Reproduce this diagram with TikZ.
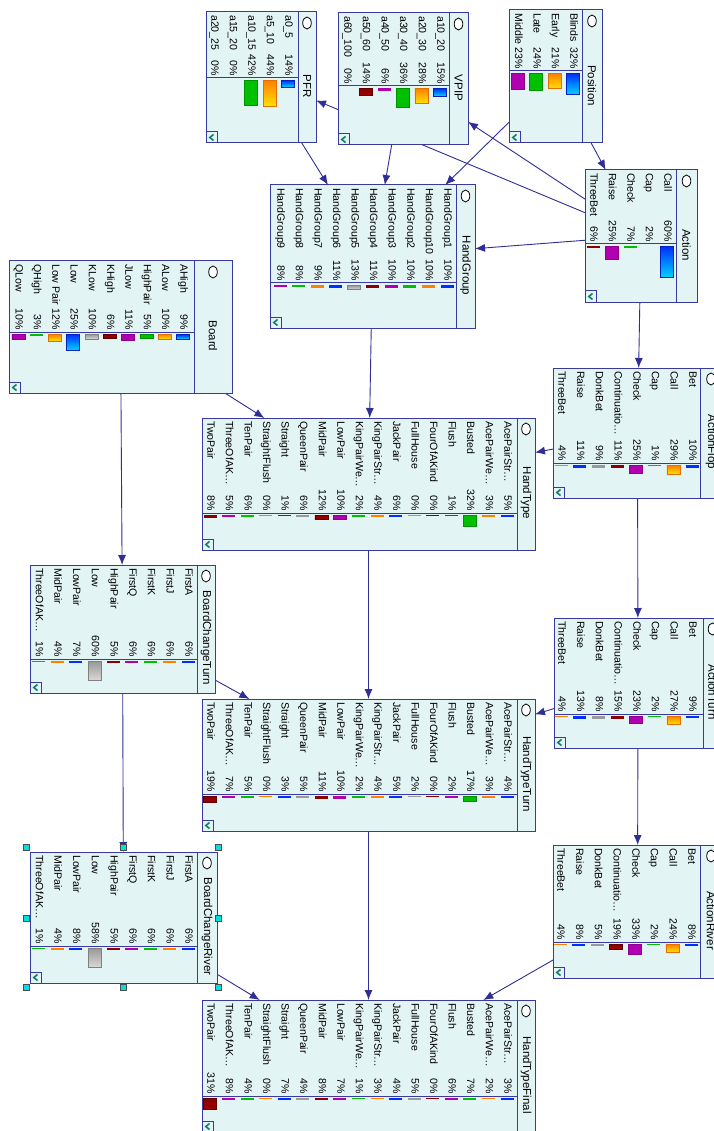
\documentclass[tikz,border=0pt]{standalone}
\usepackage{fontspec}
\setmainfont{Liberation Sans}
\usetikzlibrary{arrows.meta}
\pgfdeclarelayer{bg}
\pgfsetlayers{bg,main}

\definecolor{boxfill}{HTML}{E3F4F4}
\definecolor{boxline}{HTML}{3A3A9E}
\definecolor{linkc}{HTML}{2E2E96}
\definecolor{chevc}{HTML}{11806A}
\definecolor{handc}{HTML}{00E0E0}
% bar colours: top / bottom / border
\definecolor{bt0}{HTML}{0030FF}\definecolor{bb0}{HTML}{00D0FF}\definecolor{bd0}{HTML}{0020C0}
\definecolor{bt1}{HTML}{FF8000}\definecolor{bb1}{HTML}{FFE000}\definecolor{bd1}{HTML}{E07000}
\definecolor{bt2}{HTML}{00C000}\definecolor{bb2}{HTML}{00C000}\definecolor{bd2}{HTML}{009000}
\definecolor{bt3}{HTML}{B000B0}\definecolor{bb3}{HTML}{B000B0}\definecolor{bd3}{HTML}{900090}
\definecolor{bt4}{HTML}{8A0000}\definecolor{bb4}{HTML}{A00000}\definecolor{bd4}{HTML}{600000}
\definecolor{bt5}{HTML}{999999}\definecolor{bb5}{HTML}{D8D8D8}\definecolor{bd5}{HTML}{808080}

\newcommand\rowsp{18.55}
\newcommand\rowoff{9.5}

\tikzset{
  bnbox/.style={rectangle, draw=boxline, fill=boxfill, line width=1pt, inner sep=0pt, outer sep=0pt},
  bnline/.style={draw=boxline, line width=1pt},
  link/.style={draw=linkc, line width=0.9pt, -{Latex[length=10pt,width=8pt]}},
  stlbl/.style={rotate=-90, inner sep=0pt, font=\fontsize{10.6}{12}\selectfont},
  ttl/.style={rotate=-90, inner sep=0pt, font=\fontsize{11.5}{13}\selectfont},
  handle/.style={fill=handc, draw=black!70, line width=0.6pt},
}

% #1 name, #2 x0, #3 y0, #4 x1, #5 y1, #6 title divider x, #7 state divider y, #8 title, #9 states
\newcommand\bnnode[9]{%
  \pgfmathsetmacro\bnw{#4-#2}%
  \pgfmathsetmacro\bnh{#5-#3}%
  \node[bnbox, minimum width=\bnw pt, minimum height=\bnh pt, anchor=north west] (#1) at (#2,#3) {};
  \draw[bnline] (#6,#3) -- (#6,#5);
  \draw[bnline] (#2,#7) -- (#6,#7);
  \pgfmathsetmacro\tcx{(#6+#4)/2}%
  \pgfmathsetmacro\tcy{(#3+#5)/2+9}%
  \draw[black, line width=0.8pt, fill=white] (\tcx,#3+11) ellipse (4.3 and 6);
  \node[ttl] at (\tcx,\tcy) {#8};
  \draw[bnline, fill=boxfill] (#2,#5-11) rectangle (#2+11,#5);
  \draw[chevc, line width=1.6pt] (#2+7.5,#5-8.5) -- (#2+3.8,#5-5.5) -- (#2+7.5,#5-2.5);
  \foreach \lab/\pct/\len [count=\i from 0] in {#9}{%
    \pgfmathsetmacro\cx{#6-\rowoff-\i*\rowsp}%
    \node[stlbl, anchor=mid west] at (\cx,#3+3) {\lab};
    \node[stlbl, anchor=mid east] at (\cx,#7-2) {\pct\%};
    \pgfmathtruncatemacro\ci{mod(\i,6)}%
    \ifdim\len pt>3.9pt
      \path[top color=bt\ci, bottom color=bb\ci, draw=bd\ci, line width=0.6pt] (\cx-6.5,#7+2.5) rectangle (\cx+6.5,#7+2+\len);
    \else\ifdim\len pt>0pt
      \fill[bt\ci] (\cx-6.5,#7+2) rectangle (\cx+6.5,#7+2+\len);
    \fi\fi
  }%
}

\begin{document}
\begin{tikzpicture}[x=1pt, y=-1pt]
\useasboundingbox (0,0) rectangle (713,1131);

\renewcommand\rowoff{10}\renewcommand\rowsp{18.5}
\bnnode{PFR}{206}{12}{316}{143}{298}{78}{PFR}{a0\_5/14/7, a5\_10/44/26, a10\_15/42/25, a15\_20/0/0, a20\_25/0/0}

\renewcommand\rowoff{9}\renewcommand\rowsp{18.6}
\bnnode{VPIP}{338}{13}{468}{145}{449}{86}{VPIP}{a10\_20/15/8, a20\_30/28/15, a30\_40/36/19, a40\_50/6/3, a50\_60/14/7, a60\_100/0/0}

\renewcommand\rowoff{9}\renewcommand\rowsp{18.4}
\bnnode{Position}{509}{10}{602}{143}{582}{71}{Position}{Blinds/32/21, Early/21/15, Late/24/17, Middle/23/16}

\renewcommand\rowoff{9}\renewcommand\rowsp{18.55}
\bnnode{HandGroup}{270}{185}{475}{328}{456}{283}{HandGroup}{HandGroup1/10/3, HandGroup10/10/3, HandGroup2/10/3, HandGroup3/10/3, HandGroup4/11/3, HandGroup5/13/4.5, HandGroup6/11/3, HandGroup7/9/3, HandGroup8/8/2.5, HandGroup9/8/2.5}

\renewcommand\rowoff{9}\renewcommand\rowsp{18.5}
\bnnode{Action}{585}{170}{697}{302}{676}{244}{Action}{Call/60/31, Cap/2/0, Check/7/2, Raise/25/13, ThreeBet/6/2.5}

\renewcommand\rowoff{11}\renewcommand\rowsp{18.3}
\bnnode{Board}{9}{261}{232}{393}{194}{332}{Board}{AHigh/9/5, ALow/10/5, HighPair/5/4, JLow/11/6, KHigh/6/4, KLow/10/5, Low/25/16, Low Pair/12/7, QHigh/3/2, QLow/10/5}

\renewcommand\rowoff{10}\renewcommand\rowsp{18.56}
\bnnode{HandType}{202}{418}{535}{550}{517}{513}{HandType}{AcePairStr\ldots/5/2, AcePairWe\ldots/3/1.5, Busted/32/11, Flush/1/1, FourOfAKind/0/1, FullHouse/0/1, JackPair/6/2, KingPairStr\ldots/4/2, KingPairWe\ldots/2/1.5, LowPair/10/4, MidPair/12/4, QueenPair/6/2, Straight/1/1, StraightFlush/0/1, TenPair/6/2, ThreeOfAK\ldots/5/2, TwoPair/8/3}

\renewcommand\rowoff{8}\renewcommand\rowsp{18.7}
\bnnode{ActionFlop}{553}{368}{722}{498}{700}{463}{ActionFlop}{Bet/10/3, Call/29/9, Cap/1/1, Check/25/8, Continuatio\ldots/11/3, DonkBet/9/3, Raise/11/3, ThreeBet/4/1}

\renewcommand\rowoff{9}\renewcommand\rowsp{18.7}
\bnnode{BoardChangeTurn}{30}{565}{215}{693}{197}{659}{BoardChangeTurn}{FirstA/6/2, FirstJ/6/2, FirstK/6/2, FirstQ/6/2, HighPair/5/2, Low/60/19, LowPair/7/2, MidPair/4/2, ThreeOfAK\ldots/1/1}

\renewcommand\rowoff{10}\renewcommand\rowsp{18.56}
\bnnode{HandTypeTurn}{202}{699}{535}{831}{517}{794}{HandTypeTurn}{AcePairStr\ldots/4/1.5, AcePairWe\ldots/3/1.5, Busted/17/5, Flush/2/1.5, FourOfAKind/0/1, FullHouse/2/1, JackPair/5/1.5, KingPairStr\ldots/4/1.5, KingPairWe\ldots/2/1.5, LowPair/10/3, MidPair/11/3, QueenPair/5/1.5, Straight/3/1.5, StraightFlush/0/1, TenPair/5/1.5, ThreeOfAK\ldots/7/2, TwoPair/19/6}

\renewcommand\rowoff{11}\renewcommand\rowsp{18.7}
\bnnode{ActionTurn}{554}{618}{722}{748}{703}{714}{ActionTurn}{Bet/9/2, Call/27/8, Cap/2/1, Check/23/7, Continuatio\ldots/15/3, DonkBet/8/3, Raise/13/3, ThreeBet/4/1}

\renewcommand\rowoff{9}\renewcommand\rowsp{18.7}
\bnnode{BoardChangeRiver}{30}{852}{217}{983}{197}{946}{BoardChangeRiver}{FirstA/6/2, FirstJ/6/2, FirstK/6/2, FirstQ/6/2, HighPair/5/2, Low/58/19, LowPair/8/2, MidPair/4/2, ThreeOfAK\ldots/1/1}

\renewcommand\rowoff{9}\renewcommand\rowsp{18.7}
\bnnode{ActionRiver}{553}{845}{722}{978}{700}{942}{ActionRiver}{Bet/8/2, Call/24/8, Cap/2/1, Check/33/10, Continuatio\ldots/19/5, DonkBet/5/2, Raise/8/2, ThreeBet/4/1}

\renewcommand\rowoff{10}\renewcommand\rowsp{18.56}
\bnnode{HandTypeFinal}{202}{1000}{535}{1132}{517}{1096}{HandTypeFinal}{AcePairStr\ldots/3/1.5, AcePairWe\ldots/2/1, Busted/7/2, Flush/6/2, FourOfAKind/0/1, FullHouse/5/1.5, JackPair/4/1.5, KingPairStr\ldots/3/1, KingPairWe\ldots/1/1, LowPair/7/2, MidPair/8/2, QueenPair/4/1.5, Straight/7/2, StraightFlush/0/1, TenPair/4/1.5, ThreeOfAK\ldots/8/2, TwoPair/31/11}

% selection handles on BoardChangeRiver
\foreach \hx/\hy in {26/847, 123/847, 218/847, 26/918, 218/918, 26/987, 123/987, 218/987}
  \draw[handle] (\hx-3,\hy-3) rectangle (\hx+3,\hy+3);

\begin{pgfonlayer}{bg}
\fill[white] (0,0) rectangle (713,1131);
\draw[link] (Position) -- (Action);
\draw[link] (Position) -- (HandGroup);
\draw[link] (Action) -- (VPIP);
\draw[link] (Action) -- (PFR);
\draw[link] (Action) -- (HandGroup);
\draw[link] (PFR) -- (HandGroup);
\draw[link] (VPIP) -- (HandGroup);
\draw[link] (Action) -- (ActionFlop);
\draw[link] (HandGroup) -- (HandType);
\draw[link] (Board) -- (HandType);
\draw[link] (Board) -- (BoardChangeTurn);
\draw[link] (ActionFlop) -- (HandType);
\draw[link] (ActionFlop) -- (ActionTurn);
\draw[link] (HandType) -- (HandTypeTurn);
\draw[link] (BoardChangeTurn) -- (HandTypeTurn);
\draw[link] (ActionTurn) -- (HandTypeTurn);
\draw[link] (BoardChangeTurn) -- (BoardChangeRiver);
\draw[link] (ActionTurn) -- (ActionRiver);
\draw[link] (HandTypeTurn) -- (HandTypeFinal);
\draw[link] (BoardChangeRiver) -- (HandTypeFinal);
\draw[link] (ActionRiver) -- (HandTypeFinal);
\end{pgfonlayer}
\end{tikzpicture}
\end{document}
